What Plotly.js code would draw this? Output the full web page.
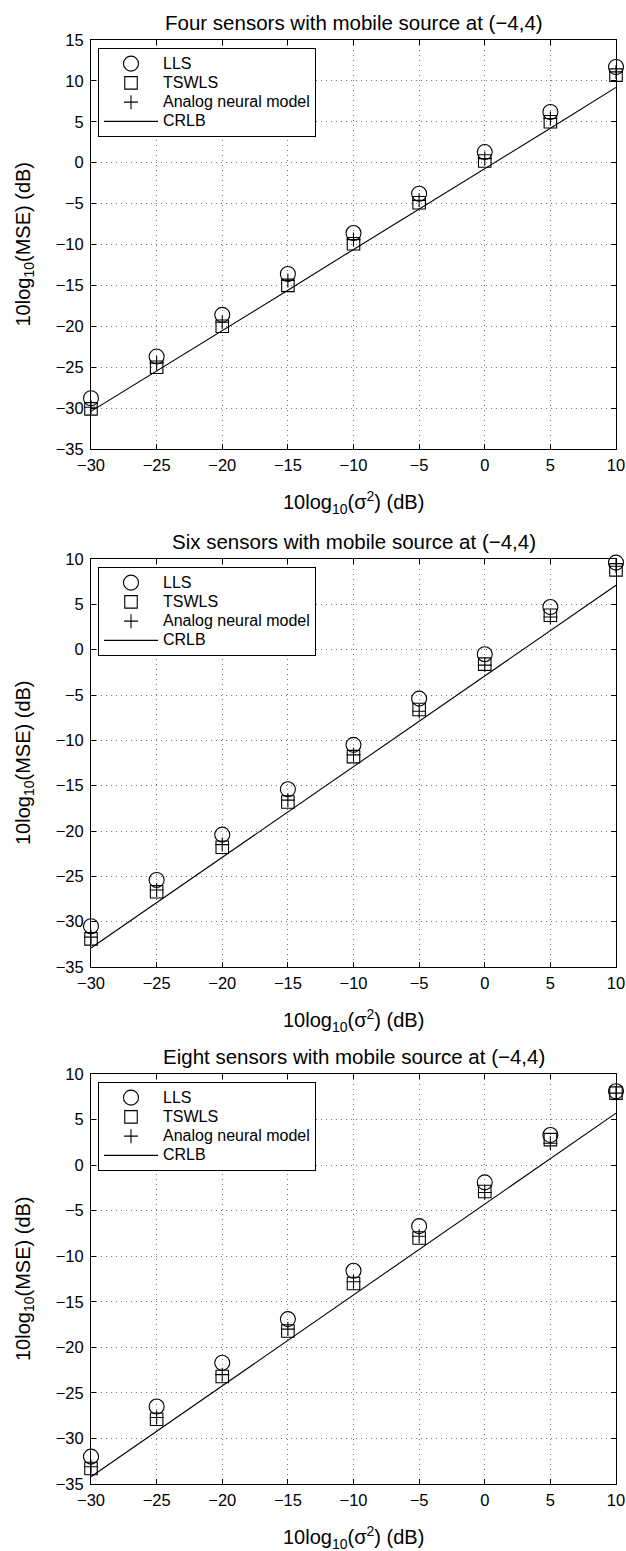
<!DOCTYPE html>
<html>
<head>
<meta charset="utf-8">
<script src="https://cdn.plot.ly/plotly-3.0.1.min.js"></script>
<style>
html,body{margin:0;padding:0;background:#fff;}
#chart{width:626px;height:1551px;}
</style>
</head>
<body>
<div id="chart"></div>
<script>
// x values: 10log10(sigma^2) (dB)
const xVals = [-30, -25, -20, -15, -10, -5, 0, 5, 10];

// Panel 1: four sensors
const lls4   = [-28.8, -23.7, -18.6, -13.6, -8.6, -3.8, 1.3, 6.2, 11.7];
const tswls4 = [-30.1, -25.0, -20.0, -15.0, -9.9, -4.9, 0.2, 5.0, 10.7];
const anm4   = [-29.9, -24.5, -19.5, -14.4, -9.4, -4.6, 0.5, 5.4, 11.1];
const crlb4  = [-30.4, -25.5, -20.5, -15.6, -10.6, -5.7, -0.7, 4.2, 9.2];

// Panel 2: six sensors
const lls6   = [-30.5, -25.4, -20.4, -15.4, -10.5, -5.4, -0.5, 4.7, 9.6];
const tswls6 = [-31.9, -26.7, -21.8, -16.8, -11.8, -6.6, -1.6, 3.8, 8.8];
const anm6   = [-31.7, -26.5, -21.5, -16.6, -11.6, -6.8, -1.7, 3.6, 9.2];
const crlb6  = [-32.9, -27.9, -22.9, -17.9, -12.9, -7.9, -2.9, 2.1, 7.1];

// Panel 3: eight sensors
const lls8   = [-32.0, -26.5, -21.7, -16.9, -11.6, -6.7, -1.9, 3.3, 8.1];
const tswls8 = [-33.3, -27.9, -23.2, -18.2, -13.0, -8.0, -2.9, 2.8, 7.9];
const anm8   = [-33.1, -27.7, -23.0, -18.0, -12.8, -7.8, -3.0, 2.4, 7.9];
const crlb8  = [-34.2, -29.2, -24.2, -19.2, -14.2, -9.2, -4.2, 0.7, 5.7];

const seriesNames = ['LLS', 'TSWLS', 'Analog neural model', 'CRLB'];
const panelTitles = [
  'Four sensors with mobile source at (\u22124,4)',
  'Six sensors with mobile source at (\u22124,4)',
  'Eight sensors with mobile source at (\u22124,4)'
];
const yRanges = [[-35, 15], [-35, 10], [-35, 10]];
const xTitle = '10log<sub>10</sub>(\u03c3<sup>2</sup>) (dB)';
const yTitle = '10log<sub>10</sub>(MSE) (dB)';

const W = 626, H = 1551;
const FONT = 'Liberation Sans, Arial, Helvetica, sans-serif';
const px2x = p => p / W;
const px2y = p => (H - p) / H;

// panel pixel boxes (top, bottom)
const boxes = [[40, 449], [559, 967], [1074, 1484]];
const xl = 91, xr = 616;

const panels = [
  [lls4, tswls4, anm4, crlb4],
  [lls6, tswls6, anm6, crlb6],
  [lls8, tswls8, anm8, crlb8]
];

const legName = n => '<span style="font-size:16px">' + n + '</span>';

const traces = [];
panels.forEach((p, i) => {
  const sfx = i === 0 ? '' : String(i + 1);
  const leg = i === 0 ? 'legend' : 'legend' + (i + 1);
  const common = {x: xVals, xaxis: 'x' + sfx, yaxis: 'y' + sfx, legend: leg, cliponaxis: false, type: 'scatter'};
  traces.push(Object.assign({}, common, {
    y: p[0], name: legName(seriesNames[0]), mode: 'markers',
    marker: {symbol: 'circle-open', size: 15, color: '#000', line: {color: '#000', width: 1.1}}
  }));
  traces.push(Object.assign({}, common, {
    y: p[1], name: legName(seriesNames[1]), mode: 'markers',
    marker: {symbol: 'square-open', size: 12.5, color: '#000', line: {color: '#000', width: 1.1}}
  }));
  traces.push(Object.assign({}, common, {
    y: p[2], name: legName(seriesNames[2]), mode: 'markers',
    marker: {symbol: 'cross-thin-open', size: 10, color: '#000', line: {color: '#000', width: 1.1}}
  }));
  traces.push(Object.assign({}, common, {
    y: p[3], name: legName(seriesNames[3]), mode: 'lines',
    line: {color: '#000', width: 1.1}
  }));
});

const layout = {
  width: W, height: H,
  margin: {l: 0, r: 0, t: 0, b: 0},
  paper_bgcolor: '#fff', plot_bgcolor: '#fff',
  font: {family: FONT, size: 16, color: '#000'},
  showlegend: true,
  annotations: []
};

boxes.forEach((b, i) => {
  const sfx = i === 0 ? '' : String(i + 1);
  const axBase = {
    showline: true, mirror: 'ticks', linecolor: '#000', linewidth: 1,
    ticks: 'inside', ticklen: 5, tickcolor: '#000', tickwidth: 1,
    showgrid: true, gridcolor: '#777', griddash: '1px,4px', gridwidth: 1,
    zeroline: false, tickfont: {family: FONT, size: 16.5, color: '#000'},
    dtick: 5, tick0: 0, fixedrange: true
  };
  layout['xaxis' + sfx] = Object.assign({}, axBase, {
    domain: [px2x(xl), px2x(xr)], range: [-30, 10], anchor: 'y' + sfx,
    ticklabelstandoff: 1
  });
  layout['yaxis' + sfx] = Object.assign({}, axBase, {
    domain: [px2y(b[1]), px2y(b[0])], range: yRanges[i], anchor: 'x' + sfx,
    ticklabelstandoff: 3
  });
  const leg = i === 0 ? 'legend' : 'legend' + (i + 1);
  layout[leg] = {
    x: px2x(98), y: px2y(b[0] + 8), xanchor: 'left', yanchor: 'top',
    bgcolor: '#fff', bordercolor: '#000', borderwidth: 1,
    font: {family: FONT, size: 12.5, color: '#000'}, itemwidth: 54,
    tracegroupgap: 0
  };
  // panel title
  layout.annotations.push({
    xref: 'paper', yref: 'paper', x: px2x((xl + xr) / 2), y: px2y(b[0] - 18),
    xanchor: 'center', yanchor: 'middle', showarrow: false,
    text: panelTitles[i], font: {family: FONT, size: 20.5, color: '#000'}
  });
  // x axis title
  layout.annotations.push({
    xref: 'paper', yref: 'paper', x: px2x((xl + xr) / 2), y: px2y(b[1] + 53),
    xanchor: 'center', yanchor: 'middle', showarrow: false,
    text: xTitle, font: {family: FONT, size: 20, color: '#000'}
  });
  // y axis title
  layout.annotations.push({
    xref: 'paper', yref: 'paper', x: px2x(24), y: px2y((b[0] + b[1]) / 2),
    xanchor: 'center', yanchor: 'middle', showarrow: false, textangle: -90,
    text: yTitle, font: {family: FONT, size: 20, color: '#000'}
  });
});

Plotly.newPlot('chart', traces, layout, {displayModeBar: false, staticPlot: true});
</script>
</body>
</html>
